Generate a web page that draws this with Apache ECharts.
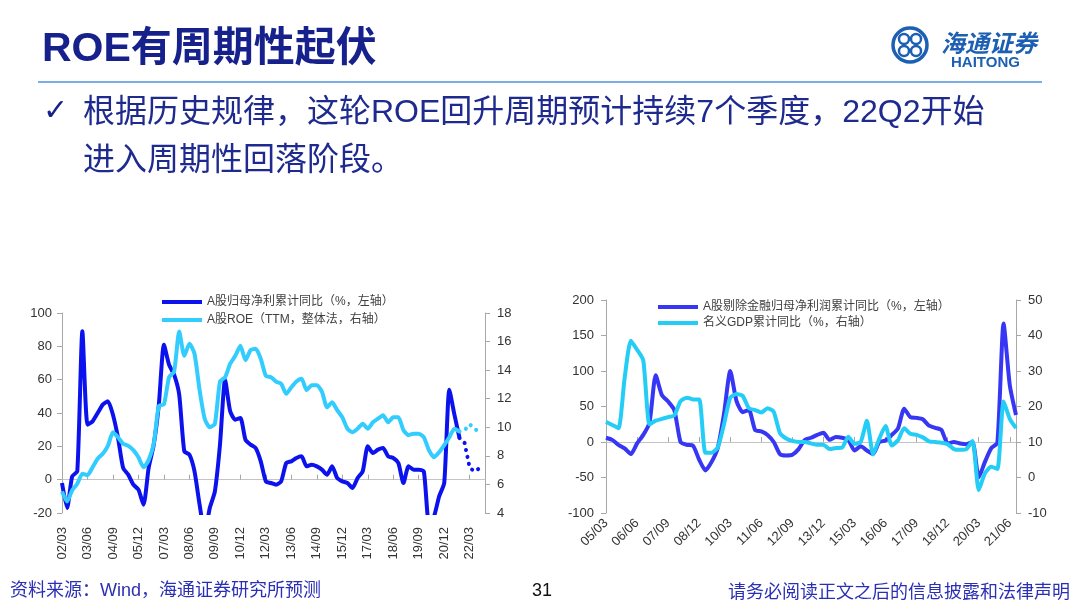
<!DOCTYPE html>
<html>
<head>
<meta charset="utf-8">
<script src="https://cdn.jsdelivr.net/npm/echarts@6/dist/echarts.min.js"></script>
<style>
html, body { margin: 0; padding: 0; background: #fff; }
#main { width: 1080px; height: 608px; }
</style>
</head>
<body>
<div id="main"></div>
<script>
// 季度标签，如 02/03、02/06 ...
function quarterLabels(startYear, count) {
    var out = []
    var months = ['03', '06', '09', '12']
    for (var i = 0; i < count; i++) {
        var y = startYear + Math.floor(i / 4)
        out.push(String(y % 100).padStart(2, '0') + '/' + months[i % 4])
    }
    return out
}

// 左图：A股归母净利累计同比 / A股ROE
var leftQuarters = quarterLabels(2002, 84)   // 02/03 ~ 22/12
var profitYoY = [
    -2, -17, 2, 5, 89, 33, 35, 40, 45, 47,
    39, 25, 7, 3, -3, -6, -15, 7, 21, 45,
    81, 69, 63, 51, 17, 15, 5, -15, -32, -17,
    -7, 21, 60, 41, 36, 37, 24, 21, 19, 11,
    -1, -2, -3, -1, 10, 11, 13, 14, 8, 9,
    8, 6, 3, 8, 1, -1, -2, -5, 1, 5,
    20, 16, 18, 19, 14, 13, 10, -2, 8, 6,
    6, 5, -26, -22, -10, -2, 54, 39, 25
]
var roeTTM = [
    5.5, 4.8, 5.6, 6.05, 6.75, 6.65, 7.2, 7.8, 8.15, 8.7,
    9.65, 9.3, 8.85, 8.7, 8.4, 7.9, 7.2, 7.7, 8.85, 11.5,
    11.6, 13.5, 13.9, 16.7, 15.0, 15.85, 15.15, 12.6, 10.6, 10.0,
    10.25, 13.2, 13.5, 14.45, 15.0, 15.7, 14.7, 15.4, 15.5, 14.8,
    13.6, 13.5, 13.2, 13.05, 12.35, 12.8, 13.2, 13.4, 12.6, 12.95,
    12.95, 12.5, 11.4, 11.75, 11.2, 10.7, 9.9, 9.65, 9.9, 10.25,
    9.9, 10.35, 10.6, 10.85, 10.35, 10.7, 10.7, 9.8, 9.45, 9.55,
    9.55, 9.3, 8.4, 7.9, 8.25, 8.75, 9.3, 9.9, 9.7
]
// 预测部分（虚线）
var forecastQuarters = ['21/09', '21/12', '22/03', '22/06', '22/09']
var profitForecast = [25, 22, 7, 5, 7]
var roeForecast = [9.7, 9.8, 10.2, 9.9, 9.6]

// 右图：A股剔除金融归母净利润累计同比 / 名义GDP累计同比
var rightQuarters = quarterLabels(2005, 67)  // 05/03 ~ 21/09
var exFinProfitYoY = [
    6, 3, -4, -9, -17, -2, 10, 27, 94, 66,
    57, 45, 0, -4, -5, -25, -40, -28, -8, 40,
    100, 58, 42, 45, 17, 15, 10, 0, -17, -19,
    -18, -10, 3, 6, 10, 13, 3, 7, 6, 3,
    -12, -6, -12, -17, 0, 2, 10, 19, 47, 35,
    34, 32, 23, 20, 17, -2, 0, -2, -3, 0,
    -50, -28, -9, -1, 167, 80, 38
]
var nominalGDP = [
    15.7, 14.8, 13.9, 28, 38.5, 36, 33, 15, 16, 16.5,
    17, 17.5, 21.5, 22.5, 22, 22, 7, 7, 8.5, 15,
    22.5, 23.5, 23, 19.5, 19, 18.3, 19.5, 18.5, 12.5, 11,
    10.3, 10, 10, 9.6, 9.2, 9.2, 8, 8.3, 8.4, 11.5,
    9.5, 10, 16, 6.5, 11, 14.5, 9, 10.5, 13.9, 12.3,
    12, 11.3, 10.2, 10, 9.8, 9.4, 8, 7.8, 8, 10.3,
    -3.5, 1.2, 3, 2.4, 21.4, 16.5, 13.9
]

var leftTicks = { min: -20, max: 100, interval: 20 }
var leftRoeTicks = { min: 4, max: 18, interval: 2 }
var rightTicks = { min: -100, max: 200, interval: 50 }
var rightGdpTicks = { min: -10, max: 50, interval: 10 }

var NAME_PROFIT = 'A股归母净利累计同比（%，左轴）'
var NAME_ROE = 'A股ROE（TTM，整体法，右轴）'
var NAME_EXFIN = 'A股剔除金融归母净利润累计同比（%，左轴）'
var NAME_GDP = '名义GDP累计同比（%，右轴）'

var LATIN = '"Liberation Sans", Arial, "Noto Sans CJK SC", sans-serif'
var CJK = '"Noto Sans CJK SC", "Liberation Sans", sans-serif'
var NAVY = '#16218c'
var DARK_BLUE = '#0b12ee'
var CYAN = '#33ccff'
var AXIS_GREY = '#a8a8a8'

function pairs(cats, vals) {
    return vals.map(function (v, i) { return [cats[i], v] })
}

function labelAxis(grid, cats, rotate, margin) {
    return {
        type: 'category', gridIndex: grid, data: cats, boundaryGap: false,
        axisLine: { show: false, onZero: false },
        axisTick: { show: false },
        axisLabel: {
            interval: 4, rotate: rotate, margin: margin,
            color: '#333', fontSize: 13, fontFamily: LATIN
        },
        splitLine: { show: false }
    }
}

function zeroAxis(grid, cats, yIndex) {
    return {
        type: 'category', gridIndex: grid, data: cats, boundaryGap: false,
        axisLine: { onZero: true, onZeroAxisIndex: yIndex, lineStyle: { color: '#c4c4c4', width: 1 } },
        axisTick: { show: true, interval: 4, length: 5, lineStyle: { color: AXIS_GREY } },
        axisLabel: { show: false },
        splitLine: { show: false }
    }
}

function valueAxis(grid, pos, ticks, margin) {
    return {
        type: 'value', gridIndex: grid, position: pos,
        min: ticks.min, max: ticks.max, interval: ticks.interval,
        axisLine: { show: true, lineStyle: { color: AXIS_GREY } },
        axisTick: { show: true, length: 5, lineStyle: { color: AXIS_GREY } },
        axisLabel: { color: '#333', fontSize: 13, fontFamily: LATIN, margin: margin },
        splitLine: { show: false }
    }
}

function lineSeries(name, xi, yi, data, color, dotted) {
    return {
        name: name, type: 'line', xAxisIndex: xi, yAxisIndex: yi,
        data: data, symbol: 'none', smooth: dotted ? false : 0.2,
        connectNulls: false,
        lineStyle: dotted
            ? { color: color, width: 4, type: [0.1, 7], cap: 'round' }
            : { color: color, width: 4, join: 'round' },
        itemStyle: { color: color },
        emphasis: { disabled: true },
        animation: false
    }
}

var myChart = echarts.init(document.getElementById('main'))

var option = {
    backgroundColor: '#fff',
    animation: false,
    grid: [
        { left: 62, top: 313, width: 423, height: 200 },
        { left: 606, top: 300, width: 410, height: 213 }
    ],
    legend: [
        {
            data: [NAME_PROFIT, NAME_ROE], orient: 'vertical',
            left: 157, top: 290, itemWidth: 40, itemHeight: 4, itemGap: 4, icon: 'rect',
            textStyle: { fontSize: 12, color: '#404040', fontFamily: LATIN, lineHeight: 14 },
            selectedMode: false
        },
        {
            data: [NAME_EXFIN, NAME_GDP], orient: 'vertical',
            left: 653, top: 295, itemWidth: 40, itemHeight: 4, itemGap: 2, icon: 'rect',
            textStyle: { fontSize: 12, color: '#404040', fontFamily: LATIN, lineHeight: 14 },
            selectedMode: false
        }
    ],
    xAxis: [
        labelAxis(0, leftQuarters, 90, 14),
        zeroAxis(0, leftQuarters, 0),
        labelAxis(1, rightQuarters, 45, 8),
        zeroAxis(1, rightQuarters, 2)
    ],
    yAxis: [
        valueAxis(0, 'left', leftTicks, 10),
        valueAxis(0, 'right', leftRoeTicks, 12),
        valueAxis(1, 'left', rightTicks, 12),
        valueAxis(1, 'right', rightGdpTicks, 12)
    ],
    series: [
        lineSeries(NAME_PROFIT, 0, 0, pairs(leftQuarters, profitYoY), DARK_BLUE, false),
        lineSeries(NAME_ROE, 0, 1, pairs(leftQuarters, roeTTM), CYAN, false),
        lineSeries('归母净利预测', 0, 0, pairs(forecastQuarters, profitForecast), DARK_BLUE, true),
        lineSeries('ROE预测', 0, 1, pairs(forecastQuarters, roeForecast), CYAN, true),
        lineSeries(NAME_EXFIN, 2, 2, pairs(rightQuarters, exFinProfitYoY), '#3636f4', false),
        lineSeries(NAME_GDP, 2, 3, pairs(rightQuarters, nominalGDP), '#24cdf5', false)
    ],
    graphic: [
        // 标题
        { type: 'text', left: 42, top: 29, style: {
            text: 'ROE有周期性起伏', fill: NAVY,
            font: 'bold 41px ' + LATIN } },
        { type: 'line', shape: { x1: 38, y1: 82, x2: 1042, y2: 82 },
          style: { stroke: '#4d94db', lineWidth: 1.5 } },
        // 要点
        { type: 'text', left: 43, top: 97, style: {
            text: '✓', fill: NAVY, font: 'bold 30px "DejaVu Sans", sans-serif' } },
        { type: 'text', left: 83, top: 97, style: {
            text: '根据历史规律，这轮ROE回升周期预计持续7个季度，22Q2开始',
            fill: '#1e2a8e', font: '32px ' + LATIN } },
        { type: 'text', left: 83, top: 145, style: {
            text: '进入周期性回落阶段。',
            fill: '#1e2a8e', font: '32px ' + LATIN } },
        // 海通证券 标志
        { type: 'circle', shape: { cx: 910, cy: 45, r: 17 },
          style: { fill: 'none', stroke: '#1d5fb2', lineWidth: 3.5 } },
        { type: 'circle', shape: { cx: 904, cy: 39, r: 5 },
          style: { fill: 'none', stroke: '#1d5fb2', lineWidth: 2.5 } },
        { type: 'circle', shape: { cx: 916, cy: 39, r: 5 },
          style: { fill: 'none', stroke: '#1d5fb2', lineWidth: 2.5 } },
        { type: 'circle', shape: { cx: 904, cy: 51, r: 5 },
          style: { fill: 'none', stroke: '#1d5fb2', lineWidth: 2.5 } },
        { type: 'circle', shape: { cx: 916, cy: 51, r: 5 },
          style: { fill: 'none', stroke: '#1d5fb2', lineWidth: 2.5 } },
        { type: 'text', left: 941, top: 31, style: {
            text: '海通证券', fill: '#1d5fb2',
            font: 'italic bold 24px ' + CJK } },
        { type: 'text', left: 951, top: 55, style: {
            text: 'HAITONG', fill: '#1d5fb2', font: 'bold 15px ' + LATIN } },
        // 页脚
        { type: 'text', left: 10, top: 582, style: {
            text: '资料来源：Wind，海通证券研究所预测', fill: '#2b2fb4',
            font: '18px ' + LATIN } },
        { type: 'text', left: 532, top: 582, style: {
            text: '31', fill: '#111', font: '18px ' + LATIN } },
        { type: 'text', right: 10, top: 582, style: {
            text: '请务必阅读正文之后的信息披露和法律声明', fill: '#2b2fb4',
            font: '18px ' + CJK } }
    ]
}

myChart.setOption(option)
</script>
</body>
</html>
